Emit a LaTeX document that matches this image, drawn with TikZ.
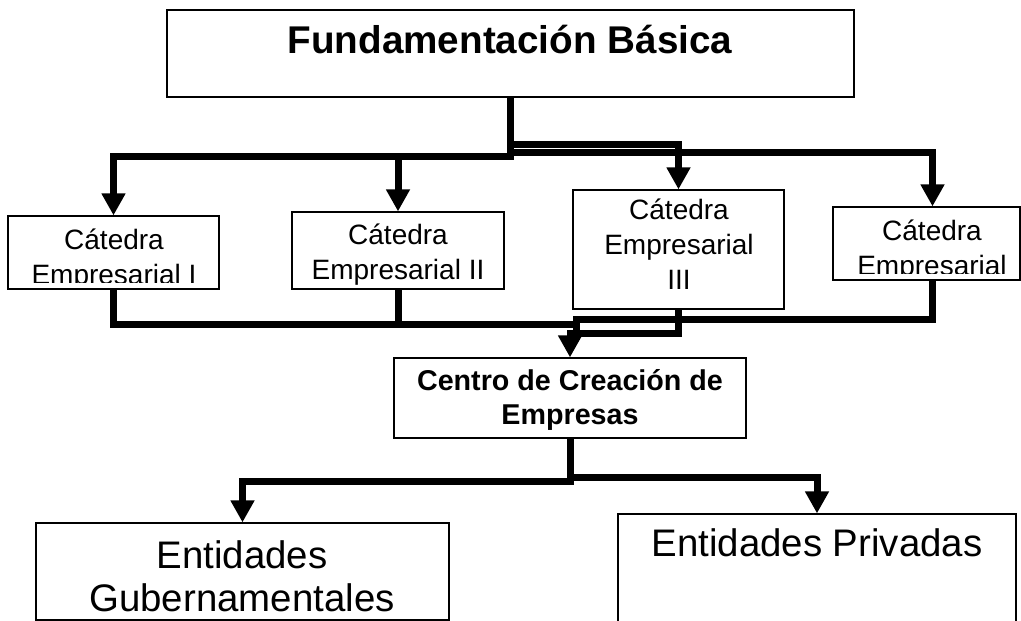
\documentclass[tikz,border=0pt]{standalone}
\usepackage{fontspec}
\setmainfont{Liberation Sans}
\usetikzlibrary{arrows.meta}

\tikzset{
  box/.style={draw, line width=0.9pt, rectangle, inner sep=0pt},
  conn/.style={line width=5.25pt},
  arr/.style={conn, -{Triangle[width=17pt,length=16.5pt]}},
  cattext/.style={anchor=north, inner sep=0pt, align=center, font=\fontsize{21}{26.25}\selectfont},
}

\begin{document}
\begin{tikzpicture}[x=0.75pt, y=-0.75pt]
\useasboundingbox (0,0) rectangle (1021,621);

% boxes
\node[box, minimum width=687*.75pt, minimum height=87*.75pt] (fund) at (510.5,53.5) {};
\node[box, minimum width=211*.75pt, minimum height=73*.75pt] (cat1) at (113.5,252.5) {};
\node[box, minimum width=212*.75pt, minimum height=77*.75pt] (cat2) at (398,250.5) {};
\node[box, minimum width=211*.75pt, minimum height=119*.75pt] (cat3) at (678.5,249.5) {};
\node[box, minimum width=187*.75pt, minimum height=73*.75pt] (cat4) at (926.5,243.5) {};
\node[box, minimum width=352*.75pt, minimum height=80*.75pt] (centro) at (570,398) {};
\node[box, minimum width=413*.75pt, minimum height=97*.75pt] (gub) at (242.5,571.5) {};
\node[box, minimum width=398*.75pt, minimum height=126*.75pt] (priv) at (817,577) {};

% texts
\node[anchor=base, inner sep=0pt, font=\fontsize{29}{35}\selectfont\bfseries] (fundtxt) at (510,53) {Fundamentación Básica};
\begin{scope}
\clip (cat1.north west) rectangle ([yshift=5.25pt]cat1.south east);
\node[cattext] (cat1txt) at (114,229) {Cátedra\\Empresarial I};
\end{scope}
\node[cattext] (cat2txt) at (398,224) {Cátedra\\Empresarial II};
\node[cattext] (cat3txt) at (679,199) {Cátedra\\Empresarial\\III};
\begin{scope}
\clip (cat4.north west) rectangle ([yshift=5.25pt]cat4.south east);
\node[cattext] (cat4txt) at (932,220) {Cátedra\\Empresarial};
\end{scope}
\node[anchor=north, inner sep=0pt, align=center, font=\fontsize{21.5}{25.5}\selectfont\bfseries] (centrotxt) at (570,369) {Centro de Creación de\\Empresas};
\node[anchor=north, inner sep=0pt, align=center, font=\fontsize{28.8}{32.25}\selectfont] (gubtxt) at (242,540) {Entidades\\Gubernamentales};
\node[anchor=base, inner sep=0pt, font=\fontsize{28.8}{34}\selectfont] (privtxt) at (817,556) {Entidades Privadas};

% connectors
\draw[arr] (fund.south) -- ++(0,59) -| (cat1.north);
\draw[arr] (fund.south) -- ++(0,59) -| (cat2.north);
\draw[arr] (fund.south) -- ++(0,47) -| (cat3.north);
\draw[arr] (fund.south) -- ++(0,55) -| ([xshift=4.5pt]cat4.north);

\coordinate (mergeA) at (576,324);
\coordinate (mergeB) at (576,340);
\draw[conn] (cat1.south) |- (mergeA);
\draw[conn] (cat2.south) |- (mergeA);
\draw[conn] ([xshift=4.5pt]cat4.south) -- ++(0,39) -| (mergeB);
\draw[arr] (cat3.south) -- ++(0,24) -| (centro.north);

\draw[arr] (centro.south) -- ++(0,43) -| (gub.north);
\draw[arr] (centro.south) -- ++(0,39) -| (priv.north);

\end{tikzpicture}
\end{document}
